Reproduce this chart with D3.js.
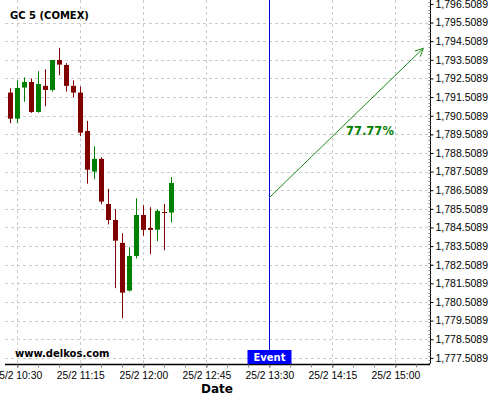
<!DOCTYPE html>
<html>
<head>
<meta charset="utf-8">
<script src="https://cdnjs.cloudflare.com/ajax/libs/d3/7.8.5/d3.min.js"></script>
<style>
  body { margin: 0; background: #fff; }
  svg { font-family: "DejaVu Sans", sans-serif; }
</style>
</head>
<body>
<svg id="chart" width="500" height="400"></svg>
<script>
// 5 minute candles, 25/2
var times = ['10:25', '10:30', '10:35', '10:40', '10:45', '10:50', '10:55', '11:00',
  '11:05', '11:10', '11:15', '11:20', '11:25', '11:30', '11:35', '11:40',
  '11:45', '11:50', '11:55', '12:00', '12:05', '12:10', '12:15', '12:20'];
var opens = [1791.75, 1790.35, 1792.02, 1792.32, 1790.71, 1792.11, 1791.89, 1793.50,
  1793.23, 1792.11, 1791.75, 1789.69, 1787.51, 1788.19, 1785.77, 1784.91,
  1783.68, 1781.12, 1782.98, 1785.18, 1784.48, 1784.39, 1785.34, 1785.31];
var highs = [1791.98, 1792.41, 1792.57, 1792.50, 1792.90, 1793.00, 1793.50, 1794.15,
  1793.33, 1792.41, 1792.07, 1790.23, 1788.87, 1788.28, 1786.58, 1785.49,
  1784.20, 1783.45, 1786.08, 1785.70, 1785.60, 1785.49, 1785.77, 1787.21];
var lows = [1790.10, 1790.10, 1791.26, 1790.66, 1790.67, 1791.02, 1791.80, 1792.68,
  1791.80, 1791.50, 1789.41, 1786.86, 1787.10, 1785.76, 1784.67, 1781.25,
  1779.64, 1781.07, 1782.84, 1784.07, 1783.07, 1783.77, 1783.29, 1784.79];
var closes = [1790.35, 1792.00, 1792.32, 1790.71, 1792.21, 1791.89, 1793.50, 1793.25,
  1792.11, 1791.75, 1789.60, 1787.61, 1788.19, 1785.90, 1784.91, 1783.80,
  1781.01, 1782.98, 1785.18, 1784.38, 1784.38, 1785.40, 1785.29, 1786.90];

var yTicks = d3.range(0, 20).map(function(i) { return 1777.5089 + i; });
var xTickTimes = ['10:30', '11:15', '12:00', '12:45', '13:30', '14:15', '15:00'];

var eventTime = '13:30';
var arrowFrom = {time: '13:30', value: 1786.11};
var arrowTo = {time: '15:20', value: 1794.13};
var arrowLabel = '77.77%';

var parseTime = d3.timeParse('%Y-%m-%d %H:%M:%S');
function toDate(t) {
  return parseTime('2020-02-25 ' + (t.length === 5 ? t + ':00' : t));
}

var candles = times.map(function(t, i) {
  return {date: toDate(t), open: opens[i], high: highs[i], low: lows[i], close: closes[i]};
});

var svg = d3.select('#chart');
var plotLeft = 5, plotRight = 430, plotTop = 0, plotBottom = 364;

var xScale = d3.scaleTime()
  .domain([toDate('10:21:13'), toDate('15:24:47')])
  .range([plotLeft, plotRight]);
var yScale = d3.scaleLinear()
  .domain([1777.18, 1796.72])
  .range([plotBottom, plotTop]);

function px(v) { return Math.round(v) + 0.5; }

// grid
var grid = svg.append('g').attr('class', 'grid');
grid.selectAll('line.h')
  .data(yTicks.filter(function(v) { return v < 1796; }))
  .enter().append('line')
  .attr('x1', plotLeft).attr('x2', plotRight)
  .attr('y1', function(d) { return px(yScale(d)); })
  .attr('y2', function(d) { return px(yScale(d)); })
  .attr('stroke', '#cccccc').attr('stroke-dasharray', '3,3');
grid.selectAll('line.v')
  .data(xTickTimes.map(toDate))
  .enter().append('line')
  .attr('x1', function(d) { return px(xScale(d)); })
  .attr('x2', function(d) { return px(xScale(d)); })
  .attr('y1', plotTop).attr('y2', plotBottom)
  .attr('stroke', '#cccccc').attr('stroke-dasharray', '3,3');

// candles
var cg = svg.append('g').attr('class', 'candles');
function colour(d) { return d.close >= d.open ? '#008000' : '#800000'; }
cg.selectAll('line.wick')
  .data(candles)
  .enter().append('line')
  .attr('x1', function(d) { return px(xScale(d.date)); })
  .attr('x2', function(d) { return px(xScale(d.date)); })
  .attr('y1', function(d) { return yScale(d.high); })
  .attr('y2', function(d) { return yScale(d.low); })
  .attr('stroke', colour).attr('stroke-width', 1);
cg.selectAll('rect.body')
  .data(candles)
  .enter().append('rect')
  .attr('x', function(d) { return Math.round(xScale(d.date)) - 2; })
  .attr('width', 5)
  .attr('y', function(d) { return yScale(Math.max(d.open, d.close)); })
  .attr('height', function(d) {
    return Math.max(1, Math.abs(yScale(d.open) - yScale(d.close)));
  })
  .attr('fill', colour);

// event line
var ex = px(xScale(toDate(eventTime)));
svg.append('line')
  .attr('x1', ex).attr('x2', ex).attr('y1', plotTop).attr('y2', plotBottom)
  .attr('stroke', '#0000dd').attr('stroke-width', 1);

// arrow
var ax1 = xScale(toDate(arrowFrom.time)), ay1 = yScale(arrowFrom.value);
var ax2 = xScale(toDate(arrowTo.time)), ay2 = yScale(arrowTo.value);
svg.append('line')
  .attr('x1', ax1).attr('y1', ay1).attr('x2', ax2).attr('y2', ay2)
  .attr('stroke', '#188a18').attr('stroke-width', 1);
var ang = Math.atan2(ay2 - ay1, ax2 - ax1);
var head = 9, spread = 0.45;
svg.append('path')
  .attr('d', 'M' + (ax2 - head * Math.cos(ang - spread)) + ',' + (ay2 - head * Math.sin(ang - spread)) +
    'L' + ax2 + ',' + ay2 +
    'L' + (ax2 - head * Math.cos(ang + spread)) + ',' + (ay2 - head * Math.sin(ang + spread)))
  .attr('fill', 'none').attr('stroke', '#188a18').attr('stroke-width', 1);
svg.append('text')
  .attr('x', 346).attr('y', 134.5)
  .attr('font-size', '11.5px').attr('font-weight', 'bold')
  .attr('fill', '#008000')
  .text(arrowLabel);

// axes
var yAxis = d3.axisRight(yScale)
  .tickValues(yTicks)
  .tickSize(3)
  .tickPadding(2)
  .tickFormat(d3.format(',.4f'));
var yg = svg.append('g')
  .attr('transform', 'translate(' + (plotRight + 0.5) + ',0)')
  .call(yAxis);
yg.select('.domain').attr('d', 'M0,' + plotTop + 'V' + plotBottom);
yg.selectAll('text').attr('font-size', '10.5px').attr('fill', '#000');
yg.selectAll('.minor')
  .data(d3.range(1777.2089, 1796.72, 0.2))
  .enter().append('line')
  .attr('class', 'minor')
  .attr('x1', -2).attr('x2', 0)
  .attr('y1', function(d) { return px(yScale(d)); })
  .attr('y2', function(d) { return px(yScale(d)); })
  .attr('stroke', '#888');

var xAxis = d3.axisBottom(xScale)
  .tickValues(xTickTimes.map(toDate))
  .tickSize(3)
  .tickPadding(4)
  .tickFormat(d3.timeFormat('25/2 %H:%M'));
var xg = svg.append('g')
  .attr('transform', 'translate(0,' + (plotBottom + 0.5) + ')')
  .call(xAxis);
xg.select('.domain').attr('d', 'M' + plotLeft + ',0H' + plotRight).attr('stroke-width', 1.5);
xg.selectAll('text').attr('font-size', '10.3px').attr('fill', '#000');
xg.selectAll('.minor')
  .data(d3.timeMinute.every(15).range(toDate('10:30'), toDate('15:20')))
  .enter().append('line')
  .attr('class', 'minor')
  .attr('x1', function(d) { return px(xScale(d)); })
  .attr('x2', function(d) { return px(xScale(d)); })
  .attr('y1', 0).attr('y2', 3)
  .attr('stroke', '#888');

// event badge
svg.append('rect')
  .attr('x', ex - 22).attr('y', 350).attr('width', 44).attr('height', 14)
  .attr('fill', '#0000ff');
svg.append('text')
  .attr('x', ex).attr('y', 361)
  .attr('text-anchor', 'middle')
  .attr('font-size', '10px').attr('font-weight', 'bold')
  .attr('fill', '#fff')
  .text('Event');

// titles
svg.append('text')
  .attr('x', 10).attr('y', 18.5)
  .attr('font-size', '10px').attr('font-weight', 'bold')
  .text('GC 5 (COMEX)');
svg.append('text')
  .attr('x', 15).attr('y', 357)
  .attr('font-size', '10px').attr('font-weight', 'bold')
  .text('www.delkos.com');
svg.append('text')
  .attr('x', 217).attr('y', 393)
  .attr('text-anchor', 'middle')
  .attr('font-size', '12px').attr('font-weight', 'bold')
  .text('Date');
</script>
</body>
</html>
